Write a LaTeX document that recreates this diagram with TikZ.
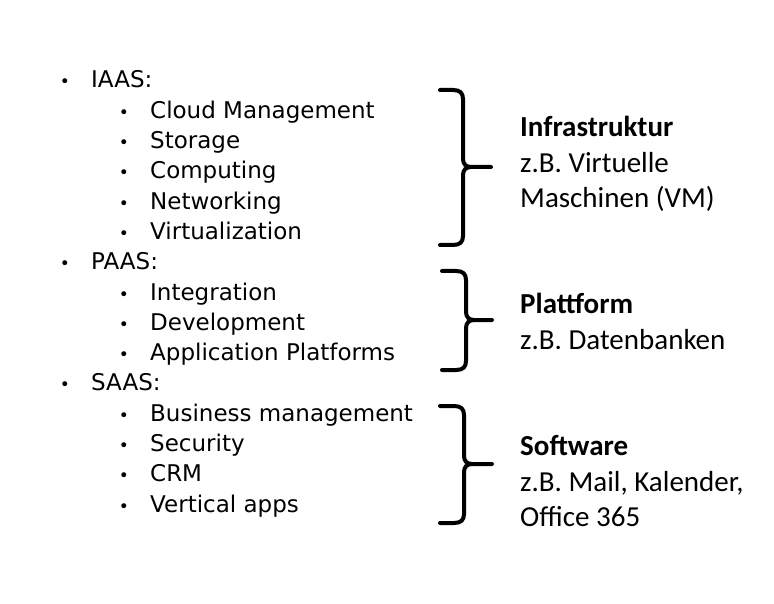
\documentclass[tikz,border=0pt]{standalone}
\usepackage{fontspec}
\newfontfamily\lftfont{DejaVu Sans}
\newfontfamily\rgtfont{Carlito}
\tikzset{
  lvlone/.style={anchor=base west,inner sep=0pt,font=\lftfont\fontsize{23}{28}\selectfont},
  lvltwo/.style={anchor=base west,inner sep=0pt,font=\lftfont\fontsize{23}{28}\selectfont},
  bul/.style={anchor=base,inner sep=0pt,font=\lftfont\fontsize{17}{20}\selectfont},
  rtxt/.style={anchor=base west,inner sep=0pt,font=\rgtfont\fontsize{29}{35}\selectfont},
  rbold/.style={rtxt,font=\rgtfont\bfseries\fontsize{29}{35}\selectfont},
  bracestroke/.style={draw=black,line width=4pt,line join=round,line cap=round}
}
\newcommand\brc[6]{%
  \draw[bracestroke] (#1,#2) -- (#3-10,#2) .. controls (#3-3,#2) and (#3,#2+3) .. (#3,#2+9)
    -- (#3,#4-8) .. controls (#3,#4-3) and (#3+3,#4) .. (#3+8,#4) -- (#6,#4);
  \draw[bracestroke] (#3+8,#4) .. controls (#3+3,#4) and (#3,#4+3) .. (#3,#4+8)
    -- (#3,#5-9) .. controls (#3,#5-3) and (#3-3,#5) .. (#3-10,#5) -- (#1,#5);
}
\begin{document}
\begin{tikzpicture}[x=1pt,y=-1pt]
\useasboundingbox[fill=white] (0,0) rectangle (774,604);
% left list
\foreach \i/\lv/\t in {
  0/1/IAAS:,1/2/Cloud Management,2/2/Storage,3/2/Computing,4/2/Networking,5/2/Virtualization,
  6/1/PAAS:,7/2/Integration,8/2/Development,9/2/Application Platforms,
  10/1/SAAS:,11/2/Business management,12/2/Security,13/2/CRM,14/2/Vertical apps}{
  \pgfmathsetmacro\yy{88+30.29*\i}
  \ifnum\lv=1
    \node[bul] (b\i) at (65,\yy) {•};
    \node[lvlone] (t\i) at (91,\yy) {\t};
  \else
    \node[bul] (b\i) at (124,\yy) {•};
    \node[lvltwo] (t\i) at (150,\yy) {\t};
  \fi
}
% braces
\brc{440}{90}{463}{167}{245}{491}
\brc{442}{271}{466}{320}{370}{492}
\brc{440}{406}{464}{464}{523}{492}
% right texts
\node[rbold] (r1) at (520,137) {Infrastruktur};
\node[rtxt] (r2) at (520,173) {z.B. Virtuelle};
\node[rtxt] (r3) at (520,208) {Maschinen (VM)};
\node[rbold] (r4) at (520,313) {Plattform};
\node[rtxt] (r5) at (520,349) {z.B. Datenbanken};
\node[rbold] (r6) at (520,455) {Software};
\node[rtxt] (r7) at (520,491) {z.B. Mail, Kalender,};
\node[rtxt] (r8) at (520,526) {Office 365};
\end{tikzpicture}
\end{document}
